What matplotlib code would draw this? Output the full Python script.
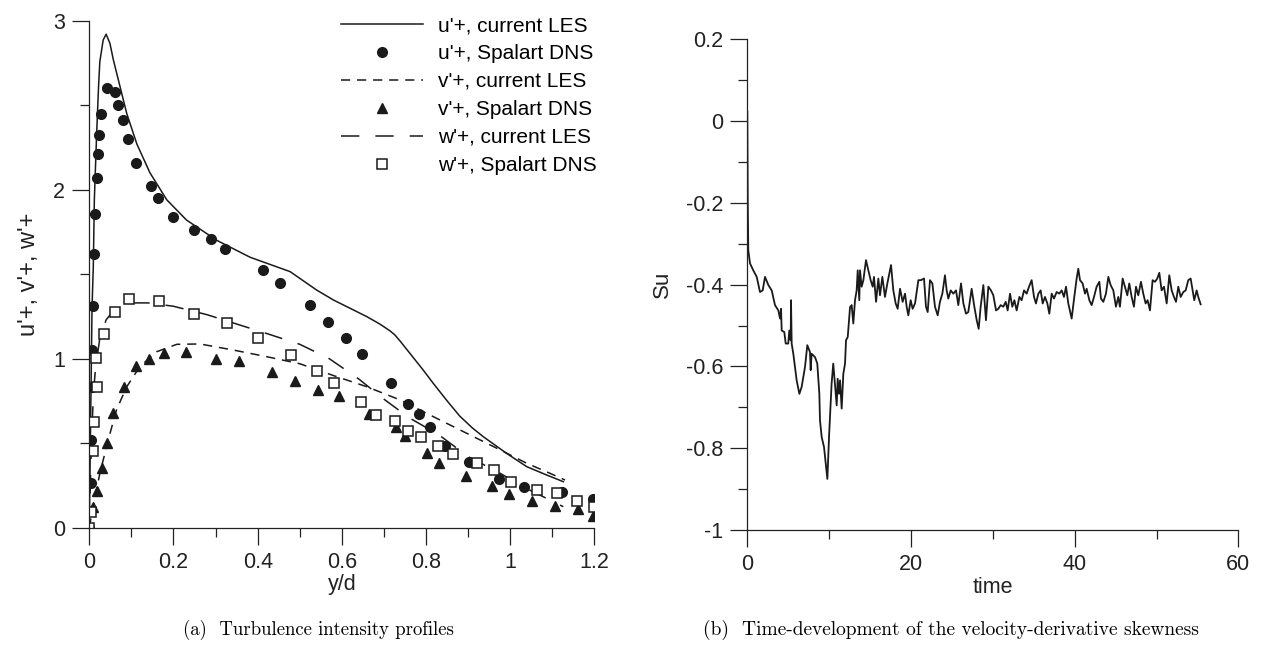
import matplotlib
matplotlib.use("Agg")
import matplotlib.pyplot as plt
from matplotlib.ticker import MultipleLocator, FuncFormatter

plt.rcParams['font.family'] = ['Liberation Sans', 'DejaVu Sans']
plt.rcParams['axes.unicode_minus'] = False

# (a) turbulence intensity profiles
yd_u_les = [0, 0.003, 0.0065, 0.0095, 0.012, 0.0175, 0.022, 0.025, 0.033, 0.04, 0.049,
            0.057, 0.073, 0.089, 0.113, 0.144, 0.184, 0.231, 0.303, 0.382, 0.477, 0.54,
            0.58, 0.659, 0.69, 0.714, 0.726, 0.738, 0.762, 0.793, 0.817, 0.85, 0.88,
            0.91, 0.936, 0.991, 1.039, 1.086, 1.126]
u_les = [0, 0.6, 1.3, 1.545, 1.94, 2.335, 2.61, 2.757, 2.886, 2.92, 2.866,
         2.77, 2.61, 2.45, 2.27, 2.10, 1.94, 1.82, 1.70, 1.60, 1.515, 1.406,
         1.347, 1.249, 1.205, 1.165, 1.14, 1.105, 1.03, 0.933, 0.854, 0.75, 0.66,
         0.59, 0.538, 0.44, 0.361, 0.312, 0.272]

yd_u_dns = [0, 0.003, 0.004, 0.006, 0.007, 0.008, 0.012, 0.013, 0.019, 0.021, 0.023,
            0.028, 0.042, 0.061, 0.069, 0.079, 0.091, 0.112, 0.147, 0.163, 0.2, 0.248,
            0.288, 0.323, 0.413, 0.454, 0.524, 0.568, 0.609, 0.648, 0.716, 0.758,
            0.783, 0.81, 0.844, 0.903, 0.973, 1.033, 1.123, 1.196]
u_dns = [0, 0.266, 0.52, 0.83, 1.05, 1.31, 1.62, 1.855, 2.07, 2.21, 2.325,
         2.45, 2.60, 2.58, 2.50, 2.41, 2.30, 2.16, 2.02, 1.95, 1.84, 1.76,
         1.71, 1.65, 1.525, 1.45, 1.32, 1.215, 1.125, 1.03, 0.856, 0.73,
         0.67, 0.596, 0.485, 0.387, 0.29, 0.243, 0.21, 0.172]

yd_v_les = [0, 0.006, 0.015, 0.025, 0.045, 0.065, 0.089, 0.12, 0.16, 0.208, 0.263,
            0.342, 0.421, 0.5, 0.58, 0.659, 0.738, 0.817, 0.896, 0.976, 1.039, 1.094,
            1.13]
v_les = [0, 0.085, 0.2, 0.32, 0.52, 0.70, 0.834, 0.953, 1.041, 1.085, 1.087,
         1.051, 1.012, 0.97, 0.9, 0.834, 0.756, 0.657, 0.559, 0.46, 0.381, 0.322,
         0.282]

yd_v_dns = [0, 0.008, 0.0175, 0.029, 0.041, 0.057, 0.083, 0.111, 0.143, 0.178, 0.229,
            0.3, 0.356, 0.433, 0.488, 0.543, 0.593, 0.665, 0.728, 0.751, 0.801, 0.831,
            0.895, 0.957, 0.997, 1.051, 1.107, 1.16, 1.197]
v_dns = [0.01, 0.124, 0.219, 0.351, 0.499, 0.677, 0.831, 0.959, 0.996, 1.032, 1.038,
         0.996, 0.986, 0.923, 0.87, 0.815, 0.779, 0.673, 0.598, 0.543, 0.44, 0.385,
         0.308, 0.249, 0.199, 0.16, 0.128, 0.111, 0.069]

yd_w_les = [0, 0.005, 0.01, 0.015, 0.025, 0.04, 0.06, 0.1, 0.14, 0.2, 0.28, 0.35,
            0.42, 0.5, 0.57, 0.64, 0.7, 0.76, 0.83, 0.9, 0.97, 1.04, 1.126]
w_les = [0, 0.5, 0.8, 0.95, 1.12, 1.23, 1.29, 1.33, 1.33, 1.31, 1.26, 1.205,
         1.15, 1.085, 1.0, 0.88, 0.76, 0.65, 0.55, 0.42, 0.33, 0.23, 0.124]

yd_w_dns = [0, 0.003, 0.008, 0.012, 0.016, 0.0175, 0.034, 0.061, 0.094, 0.166, 0.249,
            0.328, 0.401, 0.479, 0.542, 0.582, 0.645, 0.681, 0.726, 0.758, 0.787,
            0.829, 0.863, 0.921, 0.962, 1.002, 1.063, 1.11, 1.158, 1.199]
w_dns = [0, 0.09, 0.454, 0.624, 1.006, 0.834, 1.144, 1.278, 1.351, 1.341, 1.265,
         1.21, 1.124, 1.022, 0.925, 0.854, 0.746, 0.667, 0.633, 0.572, 0.538,
         0.485, 0.434, 0.385, 0.341, 0.27, 0.221, 0.203, 0.158, 0.124]

# (b) velocity-derivative skewness history
time = [0, 0.05, 0.12, 0.33, 0.73, 1.15, 1.55, 1.88, 2.16, 2.57, 2.98, 3.38, 3.79,
        4.0, 4.12, 4.2, 4.52, 4.69, 5.0, 5.13, 5.3, 5.34, 5.42, 5.62, 6.03, 6.36,
        6.64, 7.05, 7.33, 7.66, 7.74, 7.86, 8.27, 8.55, 8.8, 8.88, 9.09, 9.37, 9.78,
        10.0, 10.3, 10.5, 10.7, 10.92, 11.04, 11.2, 11.33, 11.53, 11.73, 11.94,
        12.06, 12.27, 12.55, 12.75, 12.95, 13.16, 13.36, 13.49, 13.68,
        13.77, 13.97, 14.18, 14.5, 14.79, 15.07, 15.32, 15.48, 15.73, 16.01, 16.21,
        16.5, 16.82, 17.11, 17.56, 17.84, 18.13, 18.37, 18.66, 18.98, 19.27, 19.47,
        19.67, 19.96, 20.2, 20.49, 20.9, 21.22, 21.59, 21.83, 22.04, 22.32, 22.61,
        22.93, 23.26, 23.54, 23.83, 24.15, 24.36, 24.56, 24.85, 25.17, 25.5, 25.78,
        26.11, 26.4, 26.72, 27.0, 27.41, 27.74, 28.03, 28.27, 28.51, 28.84, 29.16,
        29.45, 29.77, 30.06, 30.39, 30.67, 30.96, 31.28, 31.57, 31.81, 32.1, 32.38,
        32.63, 32.91, 33.24, 33.52, 33.81, 34.13, 34.42, 34.74, 35.03, 35.27, 35.56,
        35.84, 36.09, 36.37, 36.66, 36.9, 37.19, 37.47, 37.8, 38.12, 38.41, 38.69,
        38.94, 39.22, 39.63, 39.95, 40.24, 40.44, 40.65, 40.97, 41.26, 41.46, 41.79,
        42.07, 42.36, 42.68, 43.01, 43.21, 43.5, 43.82, 44.11, 44.39, 44.72, 45.04,
        45.33, 45.53, 45.86, 46.14, 46.43, 46.67, 46.96, 47.24, 47.49, 47.77, 48.1,
        48.38, 48.67, 48.91, 49.2, 49.52, 49.81, 50.09, 50.34, 50.62, 50.91, 51.24,
        51.56, 51.85, 52.13, 52.38, 52.66, 52.95, 53.27, 53.56, 53.88, 54.17, 54.41,
        54.61, 54.9, 55.1, 55.39]
su = [0.023, -0.19, -0.316, -0.348, -0.365, -0.381, -0.418, -0.414, -0.381, -0.401,
      -0.414, -0.45, -0.463, -0.483, -0.459, -0.512, -0.516, -0.544, -0.544, -0.512,
      -0.536, -0.438, -0.544, -0.569, -0.634, -0.667, -0.65, -0.601, -0.548, -0.565,
      -0.609, -0.569, -0.577, -0.593, -0.667, -0.732, -0.773, -0.797, -0.875,
      -0.765, -0.642, -0.593, -0.642, -0.695, -0.63, -0.667, -0.634, -0.703, -0.618,
      -0.593, -0.536, -0.528, -0.455, -0.45, -0.495, -0.438, -0.414, -0.365, -0.438,
      -0.365, -0.405, -0.389, -0.34, -0.365, -0.389, -0.405, -0.381, -0.442, -0.385,
      -0.426, -0.381, -0.43, -0.397, -0.352, -0.414, -0.446, -0.459, -0.41, -0.442,
      -0.422, -0.454, -0.475, -0.438, -0.459, -0.446, -0.389, -0.389, -0.385, -0.454,
      -0.467, -0.389, -0.397, -0.454, -0.475, -0.442, -0.422, -0.377, -0.414, -0.434,
      -0.414, -0.422, -0.414, -0.45, -0.397, -0.446, -0.471, -0.467, -0.41, -0.454,
      -0.487, -0.508, -0.454, -0.401, -0.487, -0.405, -0.414, -0.426, -0.463, -0.459,
      -0.45, -0.454, -0.442, -0.463, -0.422, -0.454, -0.438, -0.463, -0.43, -0.438,
      -0.414, -0.422, -0.405, -0.389, -0.43, -0.446, -0.422, -0.414, -0.446, -0.43,
      -0.446, -0.471, -0.422, -0.434, -0.418, -0.422, -0.414, -0.43, -0.405, -0.446,
      -0.483, -0.43, -0.385, -0.361, -0.389, -0.397, -0.422, -0.41, -0.438, -0.45,
      -0.43, -0.405, -0.393, -0.434, -0.442, -0.422, -0.381, -0.401, -0.414, -0.454,
      -0.43, -0.454, -0.385, -0.405, -0.426, -0.397, -0.43, -0.454, -0.405, -0.426,
      -0.393, -0.422, -0.446, -0.438, -0.463, -0.389, -0.393, -0.385, -0.371, -0.414,
      -0.405, -0.446, -0.377, -0.414, -0.43, -0.442, -0.405, -0.43, -0.418, -0.414,
      -0.389, -0.385, -0.414, -0.438, -0.414, -0.43, -0.448]


def style_axes(ax):
    for side in ['top', 'right']:
        ax.spines[side].set_visible(False)
    for side in ['left', 'bottom']:
        ax.spines[side].set_linewidth(0.9)
        ax.spines[side].set_color('#222222')
    ax.tick_params(which='major', direction='out', length=12.5, width=0.9,
                   labelsize=15.5, pad=5, colors='#222222')
    ax.tick_params(which='minor', direction='out', length=6.5, width=0.9,
                   colors='#222222')
    ax.xaxis.set_major_formatter(FuncFormatter(lambda v, p: '%g' % round(v, 6)))
    ax.yaxis.set_major_formatter(FuncFormatter(lambda v, p: '%g' % round(v, 6)))


fig = plt.figure(figsize=(12.63, 6.52), dpi=100)

ax1 = fig.add_axes([0.0707, 0.1907, 0.4, 0.7776])
ax1.plot(yd_u_les, u_les, color='#1a1a1a', lw=1.1, label="u'+, current LES")
ax1.plot(yd_u_dns, u_dns, 'o', color='#1a1a1a', ms=7, label="u'+, Spalart DNS")
ax1.plot(yd_v_les, v_les, color='#1a1a1a', lw=1.1, dashes=(6, 4.5),
         label="v'+, current LES")
ax1.plot(yd_v_dns, v_dns, '^', color='#1a1a1a', ms=6.5, label="v'+, Spalart DNS")
ax1.plot(yd_w_les, w_les, color='#1a1a1a', lw=1.1, dashes=(12, 10.5),
         label="w'+, current LES")
ax1.plot(yd_w_dns, w_dns, 's', mfc='white', mec='#1a1a1a', mew=1.1, ms=6.5,
         label="w'+, Spalart DNS")
ax1.set_xlim(0, 1.2)
ax1.set_ylim(0, 3)
ax1.xaxis.set_major_locator(MultipleLocator(0.2))
ax1.xaxis.set_minor_locator(MultipleLocator(0.1))
ax1.yaxis.set_major_locator(MultipleLocator(1))
ax1.yaxis.set_minor_locator(MultipleLocator(0.5))
style_axes(ax1)
ax1.set_xlabel('y/d', fontsize=15.5, labelpad=1, color='#222222')
ax1.set_ylabel("u'+, v'+, w'+", fontsize=17, labelpad=9, color='#222222')
ax1.legend(loc='upper left', bbox_to_anchor=(341 / 1263, 1 - 16 / 652),
           bbox_transform=fig.transFigure, frameon=False, fontsize=15,
           handlelength=3.93, handletextpad=0.72, labelspacing=0.43,
           borderpad=0, borderaxespad=0)

ax2 = fig.add_axes([0.5917, 0.1871, 0.3888, 0.7526])
ax2.plot(time, su, color='#1a1a1a', lw=1.3)
ax2.set_xlim(0, 60)
ax2.set_ylim(-1, 0.2)
ax2.xaxis.set_major_locator(MultipleLocator(20))
ax2.xaxis.set_minor_locator(MultipleLocator(10))
ax2.yaxis.set_major_locator(MultipleLocator(0.2))
ax2.yaxis.set_minor_locator(MultipleLocator(0.1))
style_axes(ax2)
ax2.set_xlabel('time', fontsize=15.5, labelpad=1, color='#222222')
ax2.set_ylabel('Su', fontsize=16, labelpad=9, color='#222222')

# captions under each panel
fig.text(318 / 1263, 1 - 630 / 652, '(a)  Turbulence intensity profiles',
         family='cmr10', fontsize=13.5, ha='center', va='center')
fig.text(951 / 1263, 1 - 630 / 652,
         '(b)  Time-development of the velocity-derivative skewness',
         family='cmr10', fontsize=14, ha='center', va='center')

fig.savefig('out.png', dpi=100)
